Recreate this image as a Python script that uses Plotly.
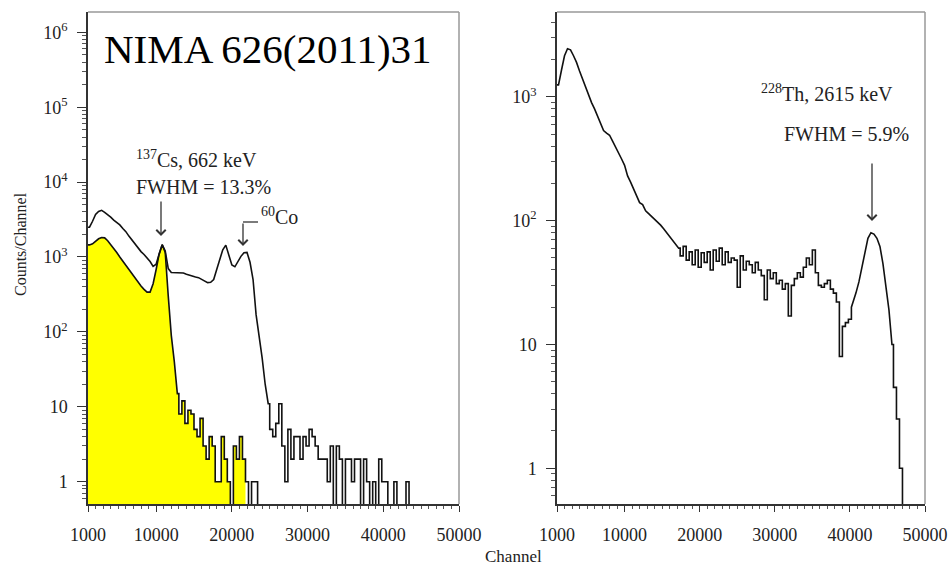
import numpy as np
import plotly.graph_objects as go

# ---------------- data ----------------
BIN_START = 1000
BIN_WIDTH = 400

# left panel: 137Cs + 60Co spectrum (upper black line)
TOTAL_COUNTS = [
    2500, 3000, 3700, 4050, 4200, 3950, 3700, 3400, 3100, 2900,
    2680, 2400, 2180, 1900, 1680, 1500, 1320, 1180, 1080, 980,
    870, 750, 800, 1100, 1460, 1200, 700, 620, 620, 615,
    615, 610, 590, 570, 555, 540, 530, 505, 480, 455,
    460, 500, 680, 950, 1250, 1440, 1080, 780, 740, 880,
    1020, 1140, 1150, 850, 500, 170, 90, 45, 20, 11,
    5, 4, 6, 11, 3, 1, 5, 2, 4, 4,
    2, 4, 3, 5, 4, 3, 2, 2, 2, 1,
    3, 0, 3, 2, 0, 2, 2, 1, 2, 2,
    0, 2, 1, 0, 1, 0, 2, 1, 1, 0,
    0, 1, 0, 0, 0, 1, 0]
TOTAL_STEP_BINS = [(59, 107)]   # low-statistics part drawn as a histogram

# left panel: 137Cs only spectrum (yellow)
CS_COUNTS = [
    1450, 1500, 1620, 1750, 1820, 1800, 1650, 1480, 1320, 1150,
    1000, 880, 770, 680, 580, 510, 460, 410, 370, 340,
    340, 440, 680, 1100, 1460, 1150, 300, 90, 40, 15,
    8, 12, 6, 9, 8, 5, 4, 7, 3, 2,
    4, 3, 1, 1, 4, 2, 1, 0, 3, 2,
    4, 2, 1, 0, 1, 1, 0]
CS_FILL_BINS = 52
CS_STEP_BINS = [(29, 57)]

# right panel: 228Th spectrum
TH_COUNTS = [
    1250, 1650, 2150, 2450, 2400, 2150, 1900, 1620, 1400, 1200,
    1030, 900, 800, 700, 620, 535, 510, 490, 440, 395,
    360, 315, 280, 230, 205, 180, 160, 140, 135, 120,
    114, 108, 104, 98, 92, 86, 80, 74, 70, 64,
    60, 52, 62, 48, 56, 44, 58, 42, 55, 46,
    56, 40, 58, 47, 60, 44, 56, 46, 50, 48,
    29, 52, 40, 47, 44, 38, 46, 40, 36, 23,
    40, 34, 38, 31, 33, 28, 31, 17, 30, 34,
    38, 35, 42, 50, 44, 58, 38, 30, 29, 31,
    33, 28, 26, 22, 8, 14, 15, 16, 20, 26,
    32, 42, 56, 72, 80, 78, 72, 62, 45, 30,
    19, 10, 4.5, 2.5, 1, 0]
TH_STEP_BINS = [(40, 99), (111, 116)]

X_TICKS = [1000, 10000, 20000, 30000, 40000, 50000]
X_TICK_TEXT = ["1000", "10000", "20000", "30000", "40000", "50000"]
Y_LEFT_TICKS = [1, 10, 100, 1000, 10000, 100000, 1000000]
Y_LEFT_TEXT = ["1", "10", "10<sup>2</sup>", "10<sup>3</sup>", "10<sup>4</sup>", "10<sup>5</sup>", "10<sup>6</sup>"]
Y_RIGHT_TICKS = [1, 10, 100, 1000]
Y_RIGHT_TEXT = ["1", "10", "10<sup>2</sup>", "10<sup>3</sup>"]

FLOOR = 0.05  # empty bins drawn below the visible range


def curve_xy(counts, step_bins):
    """Smooth parts through bin centres, low-statistics parts as histogram steps."""
    c = np.asarray(counts, dtype=float)
    c = np.where(c > 0, c, FLOOR)
    n = len(c)
    xs = [BIN_START]
    ys = [c[0]]
    for i in range(n):
        stepped = any(lo < i < hi for lo, hi in step_bins)
        if stepped:
            edge = BIN_START + BIN_WIDTH * i
            xs += [edge, edge]
            ys += [c[i - 1], c[i]]
        else:
            xs.append(BIN_START + BIN_WIDTH * (i + 0.5))
            ys.append(c[i])
    xs.append(BIN_START + BIN_WIDTH * n)
    ys.append(c[-1])
    return np.array(xs), np.array(ys)


W, H = 948, 565
def px(x):
    return x / W
def py(y):
    return 1 - y / H

SERIF = "Liberation Serif, Times New Roman, serif"
INK = "#111111"

fig = go.Figure()

# yellow fill (Cs only)
ex, ey = curve_xy(CS_COUNTS[:CS_FILL_BINS], CS_STEP_BINS)
fx = np.concatenate([[ex[0]], ex, [ex[-1]]])
fy = np.concatenate([[FLOOR], ey, [FLOOR]])
fig.add_trace(go.Scatter(x=fx, y=fy, mode="lines", line=dict(width=0),
                         fill="toself", fillcolor="#FFFF00", xaxis="x", yaxis="y",
                         hoverinfo="skip", showlegend=False))
# Cs outline
ex, ey = curve_xy(CS_COUNTS, CS_STEP_BINS)
fig.add_trace(go.Scatter(x=ex, y=ey, mode="lines", line=dict(color=INK, width=1.6),
                         xaxis="x", yaxis="y", showlegend=False))
# total spectrum
ex, ey = curve_xy(TOTAL_COUNTS, TOTAL_STEP_BINS)
fig.add_trace(go.Scatter(x=ex, y=ey, mode="lines", line=dict(color=INK, width=1.6),
                         xaxis="x", yaxis="y", showlegend=False))
# Th spectrum
ex, ey = curve_xy(TH_COUNTS, TH_STEP_BINS)
fig.add_trace(go.Scatter(x=ex, y=ey, mode="lines", line=dict(color=INK, width=1.6),
                         xaxis="x2", yaxis="y2", showlegend=False))

tickfont = dict(family=SERIF, size=18, color="#222")

def minor_vals(lo, hi):
    v = []
    for d in range(lo, hi):
        for k in range(2, 10):
            v.append(k * 10 ** d)
    return v

xcommon = dict(range=[1000, 50000], tickmode="array", tickvals=X_TICKS, ticktext=X_TICK_TEXT,
               ticks="outside", ticklen=6, tickwidth=1.2, tickcolor="#333",
               showline=True, linecolor="#333", linewidth=1.5, showgrid=False, zeroline=False,
               tickfont=tickfont, ticklabelstandoff=8, automargin=False,
               minor=dict(tickmode="linear", tick0=0, dtick=1000, ticks="outside",
                          ticklen=3, tickcolor="#555", tickwidth=1))
ycommon = dict(type="log", tickmode="array", ticks="outside", ticklen=9, tickwidth=1.2,
               tickcolor="#333", showline=True, linecolor="#333", linewidth=1.5,
               showgrid=False, zeroline=False, tickfont=tickfont, ticklabelstandoff=6,
               automargin=False)

ydom = [py(504), py(12)]
fig.update_layout(
    width=W, height=H, margin=dict(l=0, r=0, t=0, b=0, autoexpand=False),
    paper_bgcolor="white", plot_bgcolor="white", showlegend=False,
    xaxis=dict(domain=[px(88), px(459)], anchor="y", **xcommon),
    yaxis=dict(domain=ydom, anchor="x", range=[-0.298, 6.271], tickvals=Y_LEFT_TICKS,
               ticktext=Y_LEFT_TEXT,
               minor=dict(tickmode="array", tickvals=minor_vals(-1, 7), ticks="outside",
                          ticklen=4, tickcolor="#555", tickwidth=1), **ycommon),
    xaxis2=dict(domain=[px(557), px(925)], anchor="y2", **xcommon),
    yaxis2=dict(domain=ydom, anchor="x2", range=[-0.289, 3.686], tickvals=Y_RIGHT_TICKS,
                ticktext=Y_RIGHT_TEXT,
                minor=dict(tickmode="array", tickvals=minor_vals(-1, 4), ticks="outside",
                           ticklen=4, tickcolor="#555", tickwidth=1), **ycommon),
)

# grey top/right frame lines
for xr, yr in (("x domain", "y domain"), ("x2 domain", "y2 domain")):
    fig.add_shape(type="line", xref=xr, yref=yr, x0=0, x1=1, y0=1, y1=1,
                  line=dict(color="#999", width=1.5))
    fig.add_shape(type="line", xref=xr, yref=yr, x0=1, x1=1, y0=0, y1=1,
                  line=dict(color="#999", width=1.5))

txt = dict(family=SERIF, size=20, color="#222")
ann = []
ann.append(dict(text="NIMA 626(2011)31", xref="paper", yref="paper", x=px(268), y=py(49),
                xanchor="center", yanchor="middle", showarrow=False,
                font=dict(family=SERIF, size=41, color="#000")))
ann.append(dict(text="<sup>137</sup>Cs, 662 keV", xref="paper", yref="paper", x=px(134), y=py(159),
                xanchor="left", yanchor="middle", showarrow=False, font=txt))
ann.append(dict(text="FWHM = 13.3%", xref="paper", yref="paper", x=px(134), y=py(187),
                xanchor="left", yanchor="middle", showarrow=False, font=txt))
ann.append(dict(text="<sup>60</sup>Co", xref="paper", yref="paper", x=px(259), y=py(216),
                xanchor="left", yanchor="middle", showarrow=False, font=txt))
ann.append(dict(text="<sup>228</sup>Th, 2615 keV", xref="paper", yref="paper", x=px(827), y=py(93),
                xanchor="center", yanchor="middle", showarrow=False, font=txt))
ann.append(dict(text="FWHM = 5.9%", xref="paper", yref="paper", x=px(846), y=py(134),
                xanchor="center", yanchor="middle", showarrow=False, font=txt))
ann.append(dict(text="Channel", xref="paper", yref="paper", x=px(513), y=py(556),
                xanchor="center", yanchor="middle", showarrow=False,
                font=dict(family=SERIF, size=17, color="#222")))
ann.append(dict(text="Counts/Channel", xref="paper", yref="paper", x=px(20), y=py(244),
                xanchor="center", yanchor="middle", showarrow=False, textangle=-90,
                font=dict(family=SERIF, size=16, color="#222")))
# arrows
arrow = dict(showarrow=True, arrowhead=4, arrowsize=1.4, arrowwidth=1.3, arrowcolor="#333",
             text="", ax=0)
ann.append(dict(xref="paper", yref="paper", x=px(161), y=py(236), ay=-36, **arrow))
ann.append(dict(xref="paper", yref="paper", x=px(243), y=py(246), ay=-24, **arrow))
ann.append(dict(xref="paper", yref="paper", x=px(872), y=py(221), ay=-59, **arrow))
fig.update_layout(annotations=ann)
fig.add_shape(type="line", xref="paper", yref="paper", x0=px(243), x1=px(258), y0=py(222), y1=py(222),
              line=dict(color="#333", width=1.3))

fig.write_html("out.html")
